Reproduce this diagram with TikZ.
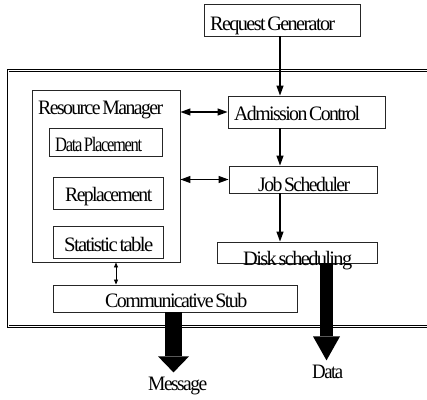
\documentclass[tikz,border=0pt]{standalone}
\usepackage{graphicx}
\usepackage{fontspec}
\setmainfont{Liberation Serif}[LetterSpace=-8,WordSpace=0.5]
\usetikzlibrary{arrows.meta}
\newcommand{\fitw}[2]{\resizebox{#1}{\height}{#2}}
\begin{document}
\begin{tikzpicture}[x=1pt,y=-1pt,
  box/.style={draw=black!85,line width=0.9pt,inner sep=0pt},
  txt/.style={inner sep=0pt,anchor=base west,font=\fontsize{20.5}{23}\selectfont},
  arr/.style={line width=1.2pt,-{Triangle[length=10pt,width=7pt]}},
  darr/.style={line width=1.2pt,{Triangle[length=10pt,width=7pt]}-{Triangle[length=10pt,width=7pt]}},
  sdarr/.style={line width=0.8pt,{Triangle[length=5pt,width=4pt]}-{Triangle[length=5pt,width=4pt]}},
  fatdata/.style={line width=13pt,-{Triangle[length=24pt,width=27pt,line width=0pt]}},
  fatmsg/.style={line width=17pt,-{Triangle[length=16pt,width=31pt,line width=0pt]}}
]
\useasboundingbox (0,0) rectangle (427,399);
\clip (0,0) rectangle (427,399);
% outer frame
\draw[line width=0.8pt,double,double distance=1pt] (8,70.7) rectangle (440,326.5);
% boxes
\node[box,minimum width=156pt,minimum height=32pt] (rg) at (282,20) {};
\node[box,minimum width=148pt,minimum height=172pt] (rm) at (106,176) {};
\node[box,minimum width=113pt,minimum height=28pt] (dp) at (105.5,142) {};
\node[box,minimum width=110pt,minimum height=32pt] (rp) at (108,193) {};
\node[box,minimum width=110pt,minimum height=32pt] (st) at (108,242) {};
\node[box,minimum width=157pt,minimum height=32pt] (ac) at (306.5,112) {};
\node[box,minimum width=148pt,minimum height=27pt] (js) at (303,179.5) {};
\node[box,minimum width=160pt,minimum height=21pt] (ds) at (297,252.5) {};
\node[box,minimum width=244pt,minimum height=27pt] (cs) at (175,298.5) {};
% texts
\node[txt] (rgT) at (210,30) {\fitw{125pt}{Request Generator}};
\node[txt] (rmT) at (38,114.7) {\fitw{125pt}{Resource Manager}};
\node[txt] (dpT) at (55,151) {\fitw{87pt}{Data Placement}};
\node[txt] (rpT) at (65,201.7) {\fitw{87pt}{Replacement}};
\node[txt] (stT) at (64,251.7) {\fitw{89pt}{Statistic table}};
\node[txt] (acT) at (234,120.7) {\fitw{126pt}{Admission Control}};
\node[txt] (jsT) at (258,191.7) {\fitw{92pt}{Job Scheduler}};
\node[txt] (dsT) at (243,265) {\fitw{109pt}{Disk scheduling}};
\node[txt] (csT) at (105,307.7) {\fitw{142pt}{Communicative Stub}};
\node[txt] (msgT) at (148,390) {\fitw{59pt}{Message}};
\node[txt] (dataT) at (312,378) {\fitw{31pt}{Data}};
% helper columns
\coordinate (colx) at (280,0);
\coordinate (smallx) at (116,0);
\coordinate (datax) at (326.5,0);
\coordinate (msgx) at (173.5,0);
% connectors
\draw[arr] ([xshift=-2pt]rg.south) -- ([xshift=-2pt]rg.south |- ac.north);
\draw[arr] (colx |- ac.south) -- (colx |- js.north);
\draw[arr] (colx |- js.south) -- (colx |- ds.north);
\draw[darr] (rm.east |- ac.west) -- (ac.west);
\draw[darr] (rm.east |- js.west) -- (js.west);
\draw[sdarr] (smallx |- rm.south) -- (smallx |- cs.north);
\draw[fatdata] (datax |- ds.south) -- ([yshift=4pt]datax |- dataT.north);
\draw[fatmsg] (msgx |- cs.south) -- ([yshift=4pt]msgx |- msgT.north);
\end{tikzpicture}
\end{document}
